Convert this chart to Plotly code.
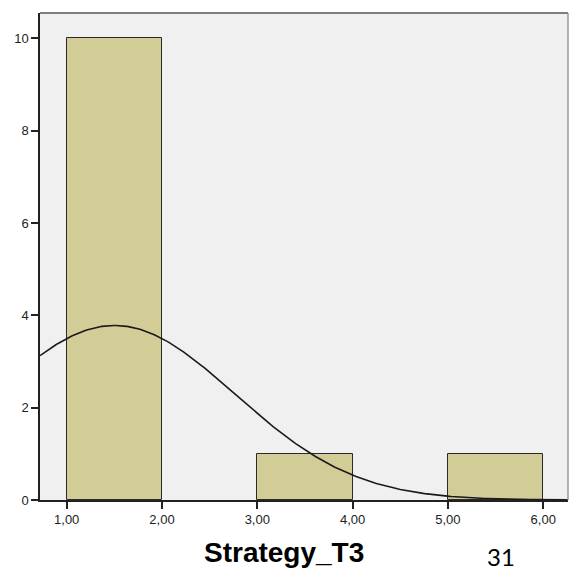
import numpy as np
import plotly.graph_objects as go

# Histogram bins (left edges) and frequencies for Strategy_T3
bin_left = [1.0, 3.0, 5.0]
bin_width = 1.0
counts = [10, 1, 1]

# Fitted normal curve parameters
n_obs = 12
mean_val = 1.5
sd_val = 1.266

x_ticks = [1, 2, 3, 4, 5, 6]
x_tick_text = ["1,00", "2,00", "3,00", "4,00", "5,00", "6,00"]
y_ticks = [0, 2, 4, 6, 8, 10]

centers = [b + bin_width / 2 for b in bin_left]

xs = np.linspace(0.72, 6.26, 300)
ys = n_obs * bin_width / (sd_val * np.sqrt(2 * np.pi)) * np.exp(-((xs - mean_val) ** 2) / (2 * sd_val ** 2))

fig = go.Figure()
fig.add_trace(go.Bar(
    x=centers, y=counts, width=[bin_width] * len(counts),
    marker=dict(color="#d2cd96", line=dict(color="#2a2a2a", width=1)),
    hoverinfo="skip",
))
fig.add_trace(go.Scatter(
    x=xs, y=ys, mode="lines",
    line=dict(color="#1a1a1a", width=1.6),
    hoverinfo="skip",
))

# top and right frame of the plotting area
fig.add_shape(type="line", xref="paper", yref="paper", x0=0, x1=1, y0=1, y1=1,
              line=dict(color="#555555", width=1.5))
fig.add_shape(type="line", xref="paper", yref="paper", x0=1, x1=1, y0=0, y1=1,
              line=dict(color="#999999", width=1.5))

fig.add_annotation(text="<b>Strategy_T3</b>", xref="paper", yref="paper",
                   x=0.462, y=-0.108, yanchor="middle", xanchor="center", showarrow=False,
                   font=dict(family="Liberation Sans, Arial", size=28, color="#000000"))
fig.add_annotation(text="31", xref="paper", yref="paper",
                   x=0.874, y=-0.117, yanchor="middle", xanchor="center", showarrow=False,
                   font=dict(family="Lato, Noto Sans", size=24, color="#000000"))

fig.update_layout(
    width=569, height=573,
    margin=dict(l=40, r=1, t=13, b=73),
    paper_bgcolor="#ffffff",
    plot_bgcolor="#f0f0f0",
    showlegend=False,
    bargap=0,
    font=dict(family="Liberation Sans, Arial", size=13, color="#222222"),
    xaxis=dict(
        range=[0.72, 6.26], tickvals=x_ticks, ticktext=x_tick_text,
        showgrid=False, zeroline=False, showline=True, linecolor="#222222", linewidth=1.5,
        ticks="outside", ticklen=7, tickcolor="#222222", tickwidth=1.5,
    ),
    yaxis=dict(
        range=[0, 10.55], tickvals=y_ticks,
        showgrid=False, zeroline=False, showline=True, linecolor="#222222", linewidth=1.5,
        ticks="outside", ticklen=7, tickcolor="#222222", tickwidth=1.5,
    ),
)

fig.write_html("out.html")
